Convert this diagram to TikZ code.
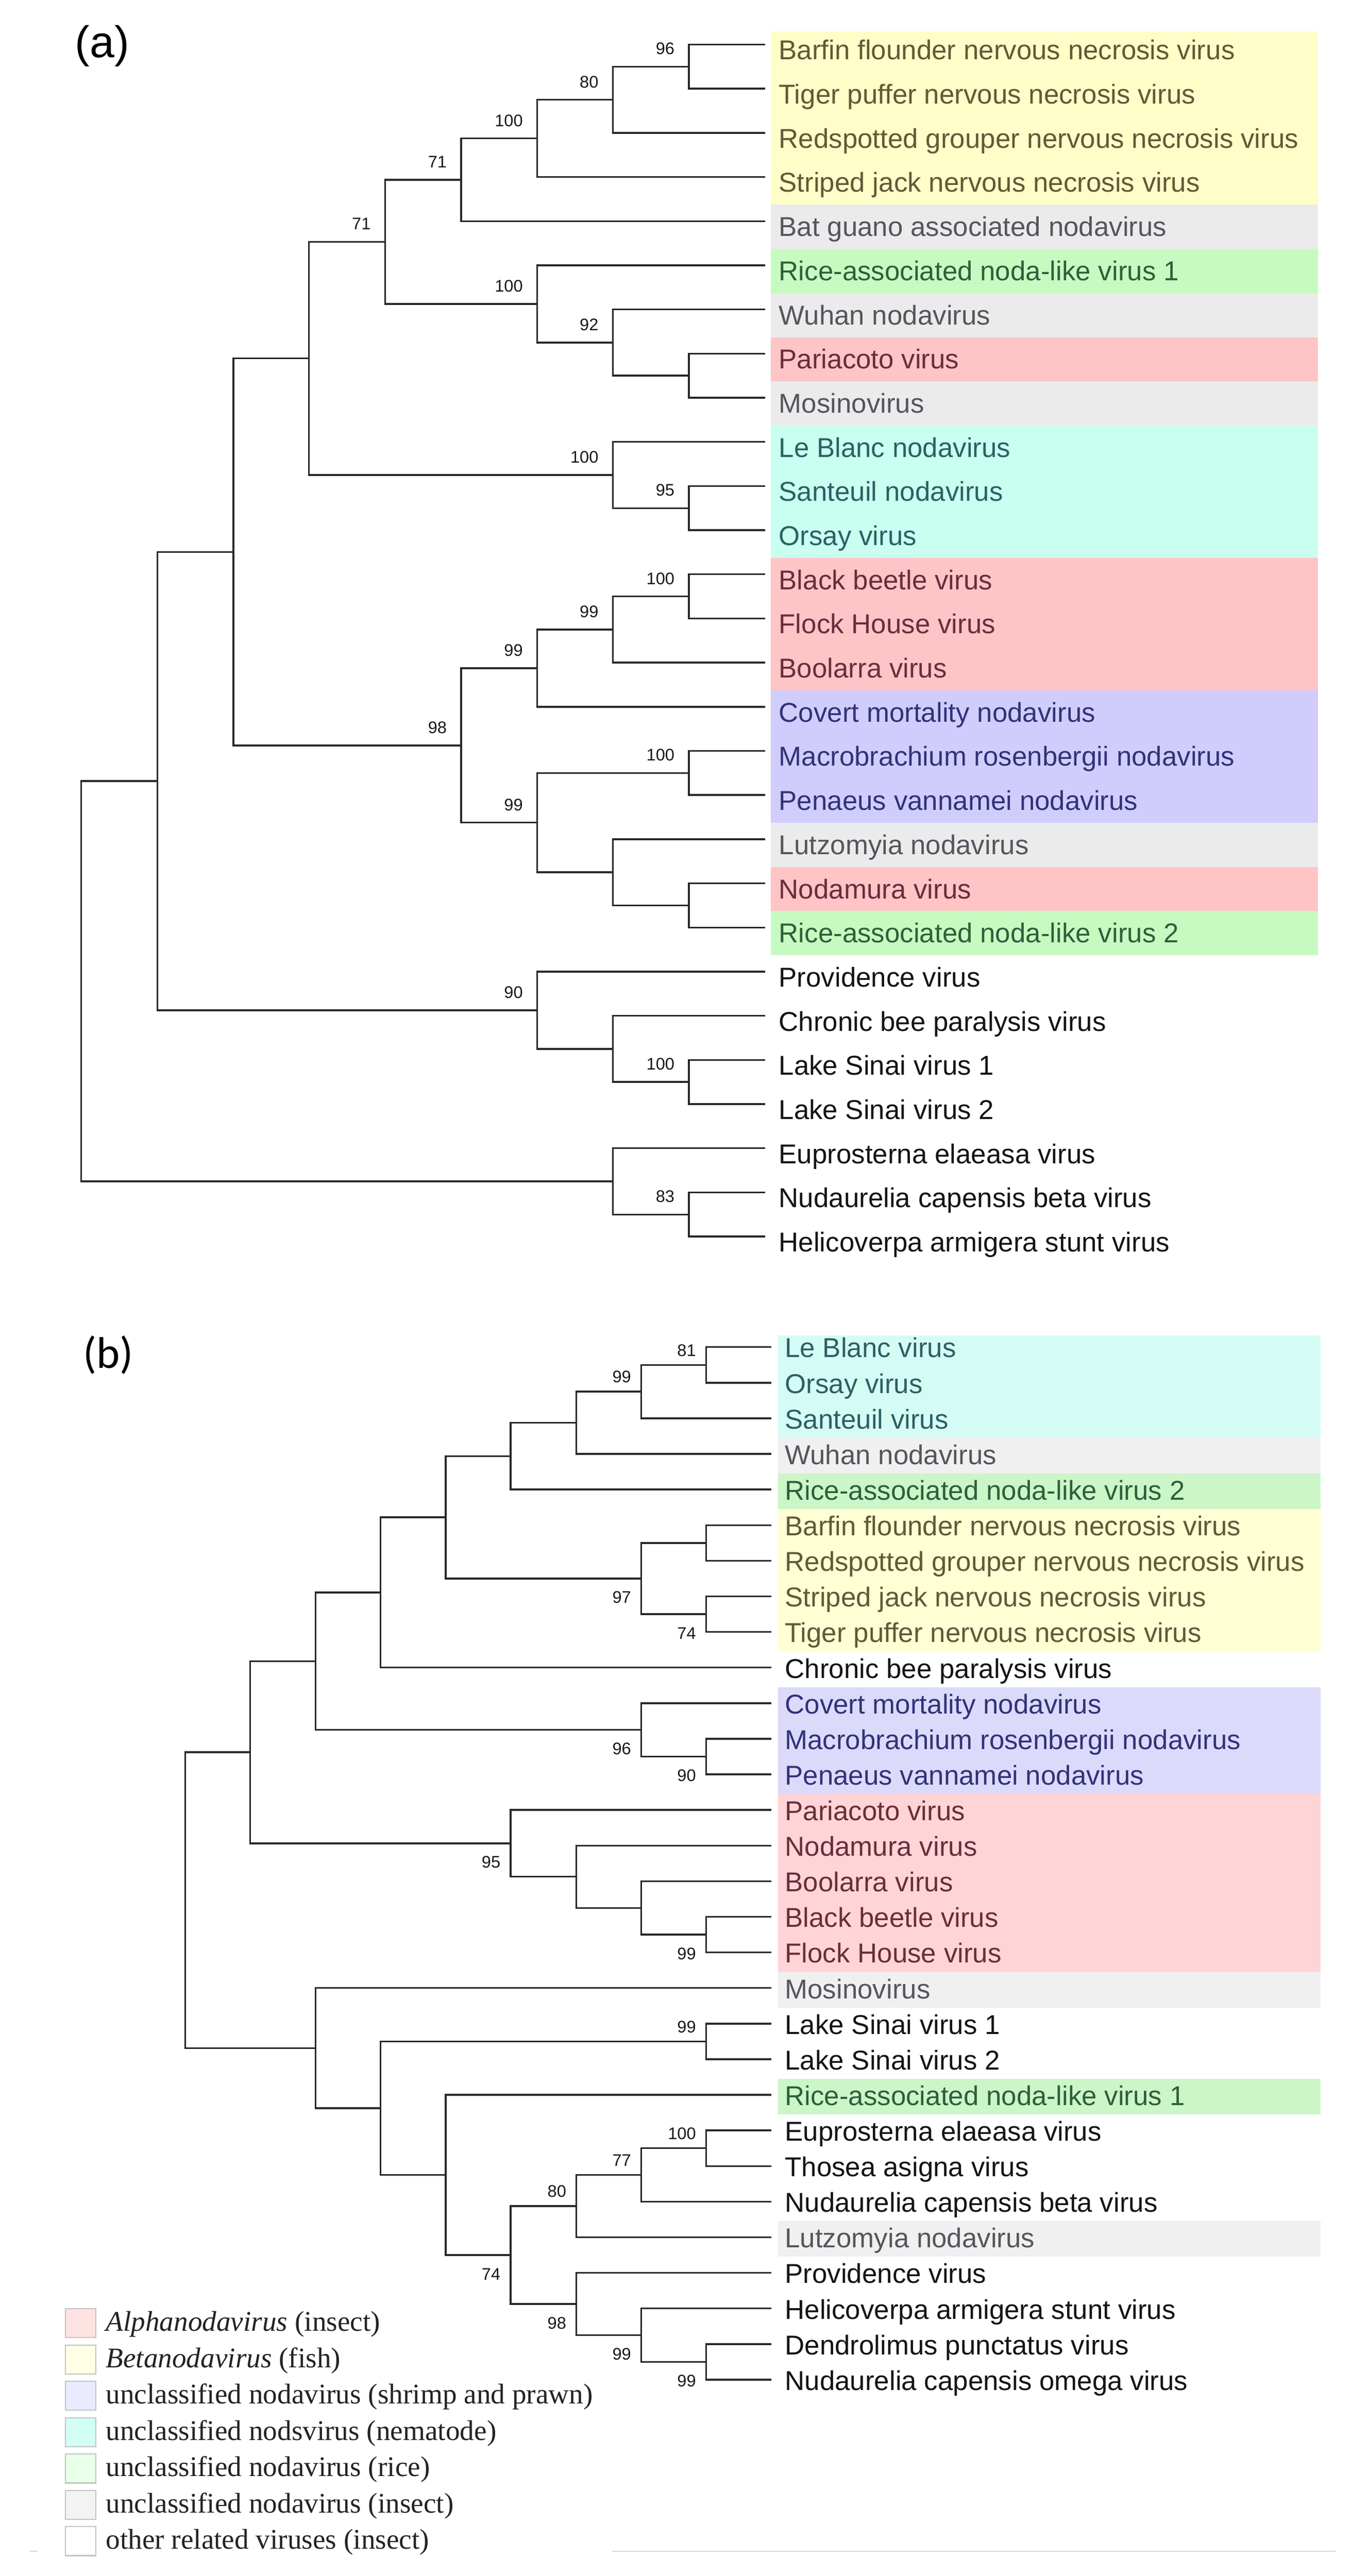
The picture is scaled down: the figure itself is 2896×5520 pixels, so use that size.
\documentclass[tikz,border=0pt]{standalone}
\usepackage{fontspec}
\usetikzlibrary{calc}
\newfontfamily\lsans{Liberation Sans}
\newfontfamily\lserif{Liberation Serif}
\newfontfamily\carl{Carlito}
\definecolor{linec}{RGB}{40,40,40}
\definecolor{bsc}{RGB}{25,25,25}
\definecolor{lgc}{RGB}{35,35,35}
\definecolor{swc}{RGB}{195,195,195}
\definecolor{hr}{RGB}{215,215,215}
% panel (a) fills
\definecolor{ya}{RGB}{255,253,200}
\definecolor{ga}{RGB}{235,235,235}
\definecolor{gra}{RGB}{199,250,192}
\definecolor{ra}{RGB}{255,196,198}
\definecolor{ca}{RGB}{200,255,240}
\definecolor{pa}{RGB}{208,205,252}
% panel (b) fills
\definecolor{yb}{RGB}{255,255,212}
\definecolor{gb}{RGB}{240,240,240}
\definecolor{grb}{RGB}{204,245,200}
\definecolor{rb}{RGB}{255,212,214}
\definecolor{cb}{RGB}{213,252,244}
\definecolor{pb}{RGB}{220,218,250}
% text colours
\definecolor{tya}{RGB}{95,90,55}
\definecolor{tga}{RGB}{85,85,95}
\definecolor{tgra}{RGB}{45,95,60}
\definecolor{tra}{RGB}{105,45,60}
\definecolor{tca}{RGB}{45,95,100}
\definecolor{tpa}{RGB}{50,50,120}
\definecolor{tk}{RGB}{20,20,20}
% legend swatches
\definecolor{s1}{RGB}{255,226,226}
\definecolor{s2}{RGB}{255,255,230}
\definecolor{s3}{RGB}{234,234,255}
\definecolor{s4}{RGB}{210,255,245}
\definecolor{s5}{RGB}{232,255,232}
\definecolor{s6}{RGB}{243,243,243}
\definecolor{s7}{RGB}{255,255,255}
\tikzset{
 br/.style={draw=linec, line width=0.95pt, line cap=rect},
 bsa/.style={font=\lsans\fontsize{9pt}{9pt}\selectfont, text=bsc, inner sep=0pt, anchor=base east},
 lf/.style={font=\lsans\fontsize{14.6pt}{14.6pt}\selectfont, inner sep=0pt, anchor=base west},
 lg/.style={font=\lserif\fontsize{15.25pt}{15.25pt}\selectfont, text=lgc, inner sep=0pt, anchor=base west},
 sw/.style={draw=swc, line width=0.6pt},
 paneltag/.style={inner sep=0pt, anchor=base west, text=black},
}
\begin{document}
\begin{tikzpicture}[x=0.25pt,y=-0.25pt]
\useasboundingbox (0,0) rectangle (2896,5520);
\fill[white] (0,0) rectangle (2896,5520);

% ================= panel (a) =================
\node[paneltag, font=\lsans\fontsize{23.75pt}{23.75pt}\selectfont] (tagA) at (160,123) {(a)};

% row backgrounds
\fill[ya]  (1652,67)     rectangle (2824,438.8);
\fill[ga]  (1652,438.8)  rectangle (2824,533.4);
\fill[gra] (1652,533.4)  rectangle (2824,628);
\fill[ga]  (1652,628)    rectangle (2824,722.6);
\fill[ra]  (1652,722.6)  rectangle (2824,817.2);
\fill[ga]  (1652,817.2)  rectangle (2824,911.8);
\fill[ca]  (1652,911.8)  rectangle (2824,1195.6);
\fill[ra]  (1652,1195.6) rectangle (2824,1479.4);
\fill[pa]  (1652,1479.4) rectangle (2824,1763.2);
\fill[ga]  (1652,1763.2) rectangle (2824,1857.8);
\fill[ra]  (1652,1857.8) rectangle (2824,1952.4);
\fill[gra] (1652,1952.4) rectangle (2824,2047);

% leaves
\foreach \i/\t/\c in {
 1/{Barfin flounder nervous necrosis virus}/tya,
 2/{Tiger puffer nervous necrosis virus}/tya,
 3/{Redspotted grouper nervous necrosis virus}/tya,
 4/{Striped jack nervous necrosis virus}/tya,
 5/{Bat guano associated nodavirus}/tga,
 6/{Rice-associated noda-like virus 1}/tgra,
 7/{Wuhan nodavirus}/tga,
 8/{Pariacoto virus}/tra,
 9/{Mosinovirus}/tga,
 10/{Le Blanc nodavirus}/tca,
 11/{Santeuil nodavirus}/tca,
 12/{Orsay virus}/tca,
 13/{Black beetle virus}/tra,
 14/{Flock House virus}/tra,
 15/{Boolarra virus}/tra,
 16/{Covert mortality nodavirus}/tpa,
 17/{Macrobrachium rosenbergii nodavirus}/tpa,
 18/{Penaeus vannamei nodavirus}/tpa,
 19/{Lutzomyia nodavirus}/tga,
 20/{Nodamura virus}/tra,
 21/{Rice-associated noda-like virus 2}/tgra,
 22/{Providence virus}/tk,
 23/{Chronic bee paralysis virus}/tk,
 24/{Lake Sinai virus 1}/tk,
 25/{Lake Sinai virus 2}/tk,
 26/{Euprosterna elaeasa virus}/tk,
 27/{Nudaurelia capensis beta virus}/tk,
 28/{Helicoverpa armigera stunt virus}/tk}
{
 \coordinate (la\i) at (1637,{95.5+(\i-1)*94.6});
 \node[lf, text=\c] (ta\i) at (1668,{128+(\i-1)*94.6}) {\t};
}

% internal nodes (a)
\coordinate (a96)   at (1476,142.8);
\coordinate (a80)   at (1313,213.75);
\coordinate (a100a) at (1151,296.5);
\coordinate (a71a)  at (988,385.2);
\coordinate (aPM)   at (1476,805);
\coordinate (a92)   at (1313,734.05);
\coordinate (a100b) at (1151,651.3);
\coordinate (a71b)  at (825,518.25);
\coordinate (a95)   at (1476,1088.8);
\coordinate (a100c) at (1313,1017.85);
\coordinate (aN3)   at (662,768.05);
\coordinate (a100d) at (1476,1278);
\coordinate (a99a)  at (1313,1348.95);
\coordinate (a99b)  at (1151,1431.7);
\coordinate (a100e) at (1476,1656.4);
\coordinate (aNR)   at (1476,1940.2);
\coordinate (aL)    at (1313,1869.25);
\coordinate (a99c)  at (1151,1762.8);
\coordinate (a98)   at (988,1597.25);
\coordinate (aN2)   at (500,1182.65);
\coordinate (a100f) at (1476,2318.6);
\coordinate (aC)    at (1313,2247.65);
\coordinate (a90)   at (1151,2164.9);
\coordinate (aN1)   at (337,1673.8);
\coordinate (a83)   at (1476,2602.4);
\coordinate (aE)    at (1313,2531.45);
\coordinate (aroot) at (174,2102.6);

\foreach \p/\q in {a96/la1,a96/la2,a80/a96,a80/la3,a100a/a80,a100a/la4,a71a/a100a,a71a/la5,
 aPM/la8,aPM/la9,a92/la7,a92/aPM,a100b/la6,a100b/a92,a71b/a71a,a71b/a100b,
 a95/la11,a95/la12,a100c/la10,a100c/a95,aN3/a71b,aN3/a100c,
 a100d/la13,a100d/la14,a99a/a100d,a99a/la15,a99b/a99a,a99b/la16,
 a100e/la17,a100e/la18,aNR/la20,aNR/la21,aL/la19,aL/aNR,a99c/a100e,a99c/aL,
 a98/a99b,a98/a99c,aN2/aN3,aN2/a98,
 a100f/la24,a100f/la25,aC/la23,aC/a100f,a90/la22,a90/aC,aN1/aN2,aN1/a90,
 a83/la27,a83/la28,aE/la26,aE/a83,aroot/aN1,aroot/aE}
 \draw[br] (\p) |- (\q);

% bootstrap labels (a)
\foreach \n/\v in {a96/96,a80/80,a100a/100,a71a/71,a92/92,a100b/100,a71b/71,a95/95,a100c/100,
 a100d/100,a99a/99,a99b/99,a100e/100,a99c/99,a98/98,a100f/100,a90/90,a83/83}
 \node[bsa] (s\n) at ($(\n)+(-30,-26)$) {\v};

% ================= panel (b) =================
\node[paneltag, font=\carl\fontsize{23.75pt}{23.75pt}\selectfont] (tagB) at (177,2932) {(b)};

\fill[cb]  (1667,2862)   rectangle (2830,3081.1);
\fill[gb]  (1667,3081.1) rectangle (2830,3157.4);
\fill[grb] (1667,3157.4) rectangle (2830,3233.7);
\fill[yb]  (1667,3233.7) rectangle (2830,3539.0);
\fill[pb]  (1667,3615.3) rectangle (2830,3844.2);
\fill[rb]  (1667,3844.2) rectangle (2830,4225.7);
\fill[gb]  (1667,4225.7) rectangle (2830,4302.0);
\fill[grb] (1667,4454.5) rectangle (2830,4530.8);
\fill[gb]  (1667,4759.7) rectangle (2830,4836.0);

\foreach \i/\t/\c in {
 1/{Le Blanc virus}/tca,
 2/{Orsay virus}/tca,
 3/{Santeuil virus}/tca,
 4/{Wuhan nodavirus}/tga,
 5/{Rice-associated noda-like virus 2}/tgra,
 6/{Barfin flounder nervous necrosis virus}/tya,
 7/{Redspotted grouper nervous necrosis virus}/tya,
 8/{Striped jack nervous necrosis virus}/tya,
 9/{Tiger puffer nervous necrosis virus}/tya,
 10/{Chronic bee paralysis virus}/tk,
 11/{Covert mortality nodavirus}/tpa,
 12/{Macrobrachium rosenbergii nodavirus}/tpa,
 13/{Penaeus vannamei nodavirus}/tpa,
 14/{Pariacoto virus}/tra,
 15/{Nodamura virus}/tra,
 16/{Boolarra virus}/tra,
 17/{Black beetle virus}/tra,
 18/{Flock House virus}/tra,
 19/{Mosinovirus}/tga,
 20/{Lake Sinai virus 1}/tk,
 21/{Lake Sinai virus 2}/tk,
 22/{Rice-associated noda-like virus 1}/tgra,
 23/{Euprosterna elaeasa virus}/tk,
 24/{Thosea asigna virus}/tk,
 25/{Nudaurelia capensis beta virus}/tk,
 26/{Lutzomyia nodavirus}/tga,
 27/{Providence virus}/tk,
 28/{Helicoverpa armigera stunt virus}/tk,
 29/{Dendrolimus punctatus virus}/tk,
 30/{Nudaurelia capensis omega virus}/tk}
{
 \coordinate (lb\i) at (1651,{2886.6+(\i-1)*76.3});
 \node[lf, text=\c] (tb\i) at (1681,{2909+(\i-1)*76.3}) {\t};
}

\coordinate (b81)   at (1513,2924.75);
\coordinate (b99a)  at (1374,2981.98);
\coordinate (bW)    at (1235,3048.74);
\coordinate (bR)    at (1094,3120.27);
\coordinate (bBR)   at (1513,3306.25);
\coordinate (b74a)  at (1513,3458.85);
\coordinate (b97)   at (1374,3382.55);
\coordinate (bF)    at (955,3251.41);
\coordinate (bC)    at (815,3412.36);
\coordinate (b90)   at (1513,3764.05);
\coordinate (b96)   at (1374,3706.83);
\coordinate (bS)    at (676,3559.6);
\coordinate (b99b)  at (1513,4145.55);
\coordinate (bB)    at (1374,4088.33);
\coordinate (bN)    at (1235,4021.56);
\coordinate (b95)   at (1094,3950.03);
\coordinate (bA)    at (536,3754.8);
\coordinate (b99c)  at (1513,4374.45);
\coordinate (b100)  at (1513,4603.35);
\coordinate (b77)   at (1374,4660.58);
\coordinate (b80)   at (1235,4727.34);
\coordinate (b99e)  at (1513,5061.15);
\coordinate (b99d)  at (1374,5003.93);
\coordinate (b98)   at (1235,4937.17);
\coordinate (b74b)  at (1094,4832.26);
\coordinate (bRi)   at (955,4660.58);
\coordinate (bL)    at (815,4517.5);
\coordinate (bM)    at (676,4388.76);
\coordinate (broot) at (397,4071.8);

\foreach \p/\q in {b81/lb1,b81/lb2,b99a/b81,b99a/lb3,bW/b99a,bW/lb4,bR/bW,bR/lb5,
 bBR/lb6,bBR/lb7,b74a/lb8,b74a/lb9,b97/bBR,b97/b74a,bF/bR,bF/b97,bC/bF,bC/lb10,
 b90/lb12,b90/lb13,b96/lb11,b96/b90,bS/bC,bS/b96,
 b99b/lb17,b99b/lb18,bB/lb16,bB/b99b,bN/lb15,bN/bB,b95/lb14,b95/bN,bA/bS,bA/b95,
 b99c/lb20,b99c/lb21,b100/lb23,b100/lb24,b77/b100,b77/lb25,b80/b77,b80/lb26,
 b99e/lb29,b99e/lb30,b99d/lb28,b99d/b99e,b98/lb27,b98/b99d,b74b/b80,b74b/b98,
 bRi/lb22,bRi/b74b,bL/b99c,bL/bRi,bM/lb19,bM/bL,broot/bA,broot/bM}
 \draw[br] (\p) |- (\q);

% labels above the branch
\foreach \n/\v in {b81/81,b99a/99,b99c/99,b100/100,b77/77,b80/80}
 \node[bsa] (s\n) at ($(\n)+(-21,-19)$) {\v};
% labels below the branch
\foreach \n/\v in {b74a/74,b97/97,b90/90,b96/96,b99b/99,b95/95,b99e/99,b99d/99,b98/98,b74b/74}
 \node[bsa] (s\n) at ($(\n)+(-21,53)$) {\v};

% ================= legend =================
\coordinate (hr1) at (63,5467);
\coordinate (hr2) at (81,5467);
\coordinate (hr3) at (1311,5467);
\coordinate (hr4) at (2861,5467);
\draw[hr, line width=0.5pt] (hr1) -- (hr2) (hr3) -- (hr4);

\foreach \i/\c/\t in {
 1/s1/{\textit{Alphanodavirus} (insect)},
 2/s2/{\textit{Betanodavirus} (fish)},
 3/s3/{unclassified nodavirus (shrimp and prawn)},
 4/s4/{unclassified nodsvirus (nematode)},
 5/s5/{unclassified nodavirus (rice)},
 6/s6/{unclassified nodavirus (insect)},
 7/s7/{other related viruses (insect)}}
{
 \draw[sw, fill=\c] (140,{4947+(\i-1)*77.9}) rectangle (205,{5009+(\i-1)*77.9});
 \node[lg] (lg\i) at (226,{4995+(\i-1)*77.9}) {\t};
}
\end{tikzpicture}
\end{document}
